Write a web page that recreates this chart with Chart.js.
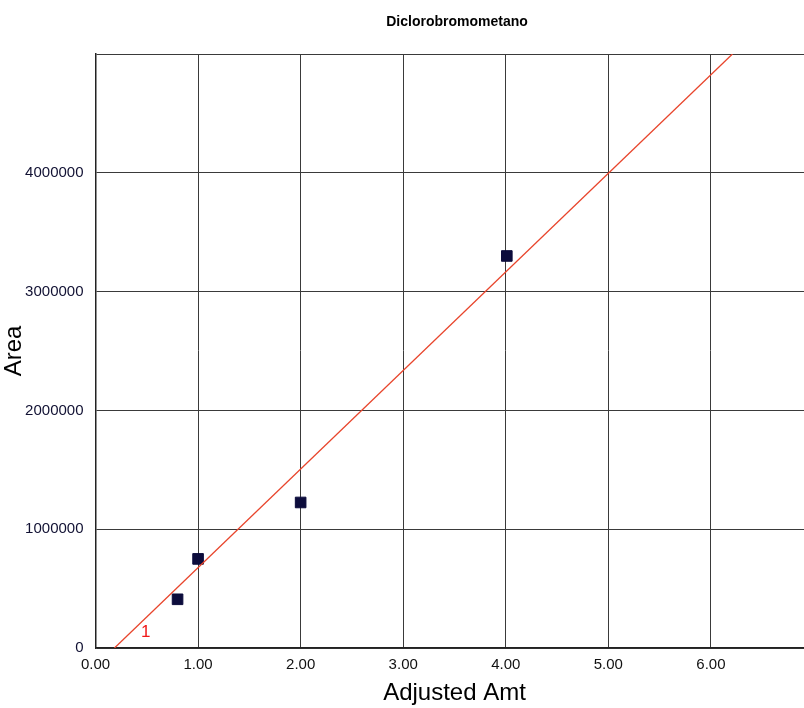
<!DOCTYPE html>
<html>
<head>
<meta charset="UTF-8">
<title>Diclorobromometano</title>
<style>
  body { margin: 0; background: #fff; overflow: hidden; }
  #wrap { width: 830px; height: 708px; }
</style>
</head>
<body>
<div id="wrap"><canvas id="chart" width="822" height="708"></canvas></div>
<script src="https://cdn.jsdelivr.net/npm/chart.js"></script>
<script>
// calibration points
const amounts = [0.80, 1.00, 2.00, 4.01];
const areas = [410000, 750000, 1225000, 3300000];

// fitted curve (ends of the red line)
const fitX = [0.185, 6.21];
const fitY = [0, 5000000];

const xTicks = [0, 1, 2, 3, 4, 5, 6];
const yTicks = [0, 1000000, 2000000, 3000000, 4000000, 5000000];
const yLabeled = [0, 1000000, 2000000, 3000000, 4000000];

const chartTitle = 'Diclorobromometano';
const curveLabel = { text: '1', x: 0.49, y: 135000 };

const font = 'Liberation Sans, Arial, sans-serif';

const overlay = {
  id: 'overlay',
  afterDraw(chart) {
    const ctx = chart.ctx;
    const xs = chart.scales.x, ys = chart.scales.y;
    ctx.save();
    ctx.fillStyle = '#000';
    ctx.font = 'bold 14px ' + font;
    ctx.textAlign = 'center';
    ctx.textBaseline = 'middle';
    ctx.fillText(chartTitle, 457, 22);
    ctx.fillStyle = '#f01818';
    ctx.font = '17px ' + font;
    ctx.fillText(curveLabel.text, xs.getPixelForValue(curveLabel.x), ys.getPixelForValue(curveLabel.y));
    ctx.restore();
  }
};

new Chart(document.getElementById('chart'), {
  type: 'scatter',
  data: {
    datasets: [
      {
        label: 'fit',
        type: 'line',
        data: fitX.map((x, i) => ({ x: x, y: fitY[i] })),
        borderColor: '#e8452c',
        borderWidth: 1.3,
        pointRadius: 0,
        fill: false
      },
      {
        label: 'points',
        data: amounts.map((x, i) => ({ x: x, y: areas[i] })),
        pointStyle: 'rect',
        pointRadius: 7.5,
        backgroundColor: '#0c0c3c',
        borderColor: '#0c0c3c'
      }
    ]
  },
  options: {
    responsive: false,
    animation: false,
    layout: { padding: { top: 54, right: 1, left: 0, bottom: 0 } },
    plugins: { legend: { display: false }, tooltip: { enabled: false } },
    scales: {
      x: {
        type: 'linear',
        min: 0,
        max: 7,
        afterBuildTicks: s => { s.ticks = xTicks.map(v => ({ value: v })); },
        afterFit: s => { s.height = 60; },
        grid: { color: '#3a3a3a', lineWidth: 1, drawTicks: false },
        border: { color: '#222', width: 1.5 },
        ticks: {
          padding: 8,
          color: '#111',
          font: { family: font, size: 15 },
          maxRotation: 0,
          callback: v => v.toFixed(2)
        },
        title: {
          display: true,
          text: 'Adjusted Amt',
          color: '#000',
          font: { family: font, size: 24 },
          padding: { top: 0, bottom: 0 }
        }
      },
      y: {
        min: 0,
        max: 5000000,
        afterBuildTicks: s => { s.ticks = yTicks.map(v => ({ value: v })); },
        afterFit: s => { s.width = 95.5; },
        grid: { color: '#3a3a3a', lineWidth: 1, drawTicks: false },
        border: { color: '#222', width: 1.5 },
        ticks: {
          padding: 12,
          color: '#111133',
          font: { family: font, size: 15 },
          callback: v => yLabeled.includes(v) ? String(v) : ''
        },
        title: {
          display: true,
          text: 'Area',
          color: '#000',
          font: { family: font, size: 24 },
          padding: { top: 0, bottom: 0 }
        }
      }
    }
  },
  plugins: [overlay]
});
</script>
</body>
</html>
